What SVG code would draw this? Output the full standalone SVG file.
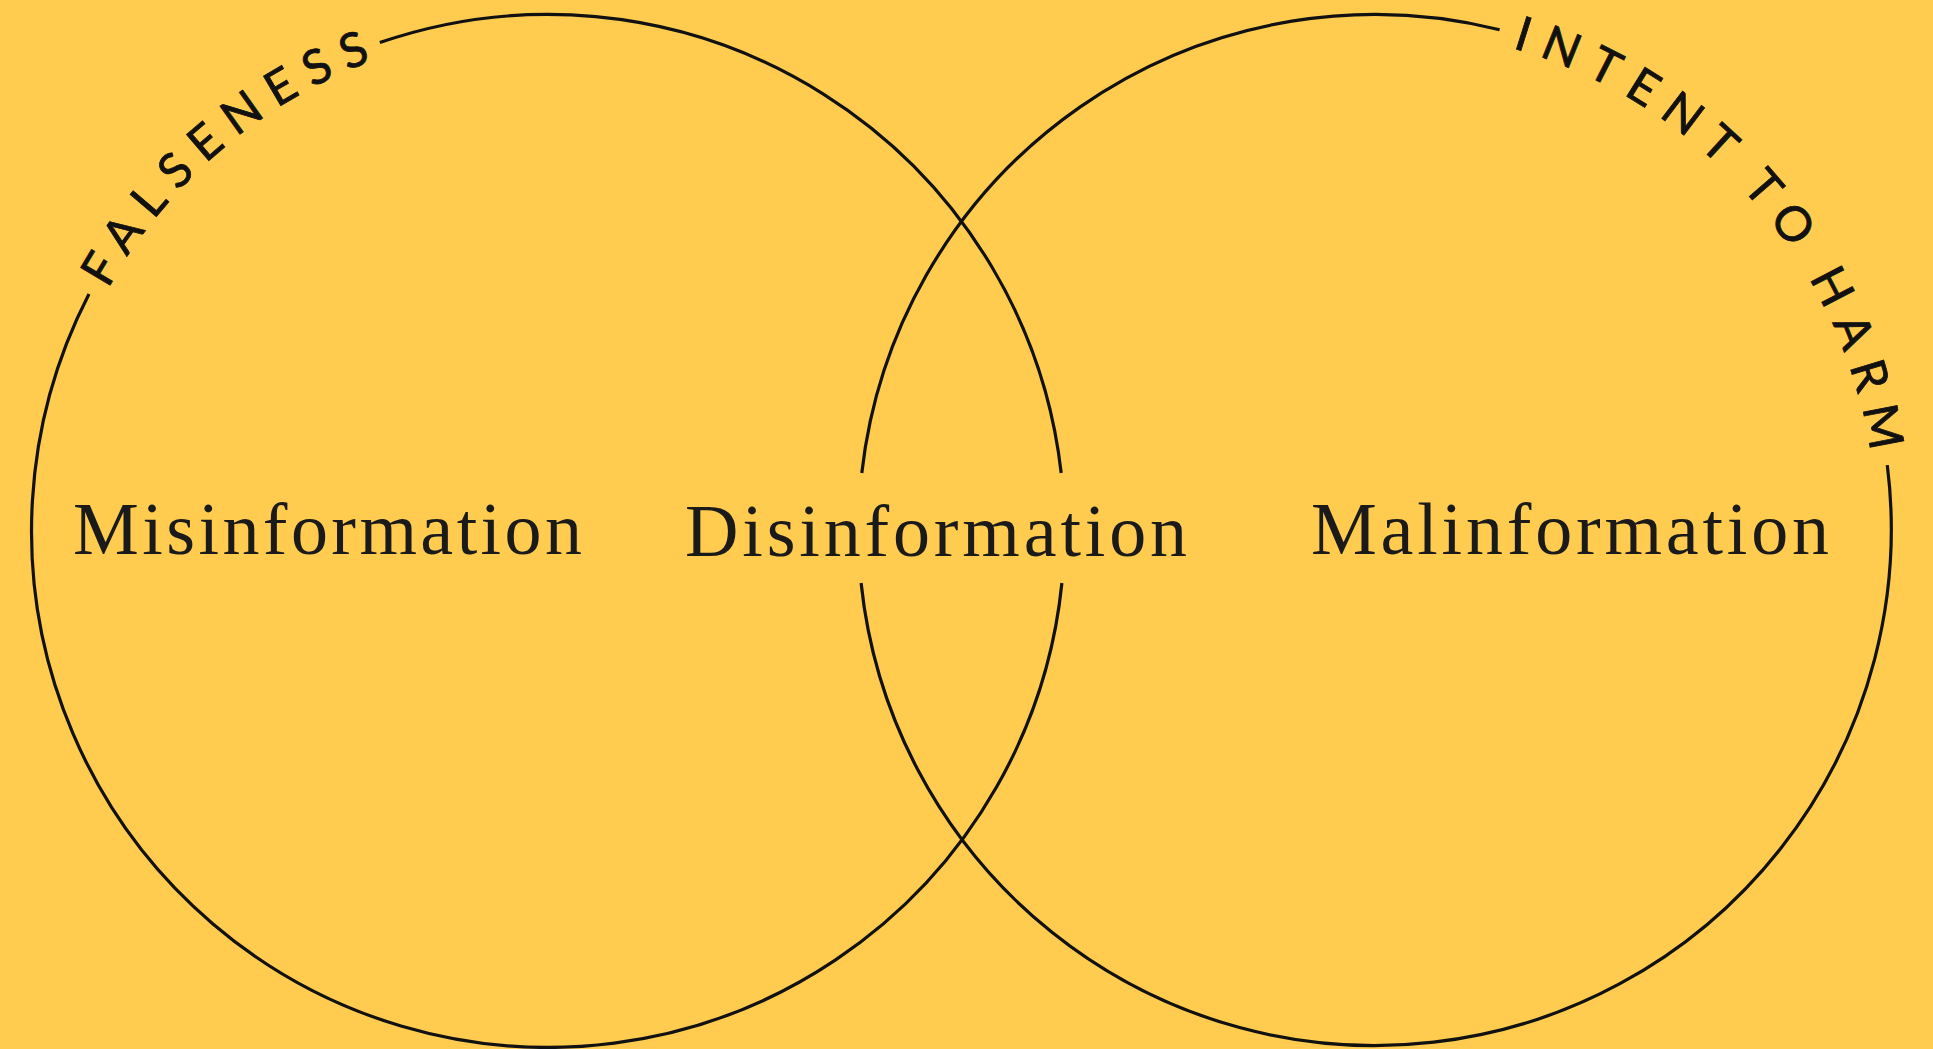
<svg xmlns="http://www.w3.org/2000/svg" width="1933" height="1049" viewBox="0 0 1933 1049">
  <style>
    .ring { fill: none; stroke: #111111; stroke-width: 3.2; }
    .label { font-family: "Liberation Serif", "Times New Roman", serif; font-size: 74px; fill: #1a1a1a; }
    .arc-label { font-family: Lato, "Noto Sans", "Liberation Sans", sans-serif; font-size: 48px; fill: #111111; stroke: #111111; stroke-width: 0.8px; word-spacing: -6px; }
    .falseness-text { letter-spacing: 13px; }
    .intent-text { letter-spacing: 13.8px; }
  </style>
  <defs>
    <path id="falsenessPath" d="M 52.3 451.6 A 502 502 0 0 1 540.1 29.1"/>
    <path id="intentPath" d="M 1358.7 29.3 A 502 502 0 0 1 1871.9 602.1"/>
  </defs>
  <rect x="0" y="0" width="1933" height="1049" fill="#FFCC4F"/>

  <g id="connectors">
    <!-- Left circle (Falseness) -->
    <path class="ring" d="M 379.8 42.6 A 516.5 516.5 0 0 1 1061.2 473.0"/>
    <path class="ring" d="M 1061.9 583.0 A 516.5 516.5 0 1 1 89.0 294.1"/>
    <!-- Right circle (Intent to harm) -->
    <path class="ring" d="M 1887.3 465.1 A 516.5 516.5 0 1 1 861.1 583.0"/>
    <path class="ring" d="M 861.8 473.0 A 516.5 516.5 0 0 1 1499.6 29.7"/>
  </g>

  <g id="falseness">
    <text class="arc-label falseness-text"><textPath href="#falsenessPath" startOffset="357" text-anchor="middle">FALSENESS</textPath></text>
  </g>

  <g id="intent-to-harm">
    <text class="arc-label intent-text"><textPath href="#intentPath" startOffset="447" text-anchor="middle">INTENT TO HARM</textPath></text>
  </g>

  <g id="misinformation">
    <text class="label" x="73" y="554" textLength="509" lengthAdjust="spacing">Misinformation</text>
  </g>

  <g id="disinformation">
    <text class="label" x="685" y="556" textLength="502" lengthAdjust="spacing">Disinformation</text>
  </g>

  <g id="malinformation">
    <text class="label" x="1311" y="554" textLength="518" lengthAdjust="spacing">Malinformation</text>
  </g>
</svg>
